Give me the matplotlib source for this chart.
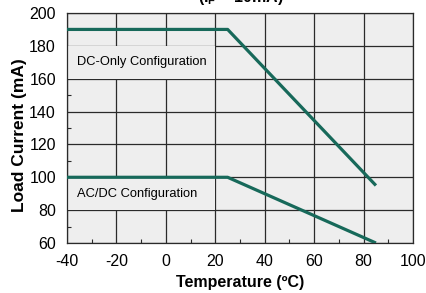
import matplotlib
matplotlib.use("Agg")
import matplotlib.pyplot as plt
from matplotlib.patches import Rectangle

plt.rcParams['font.family'] = ['Liberation Sans', 'DejaVu Sans']
plt.rcParams['axes.unicode_minus'] = False

dc_temp = [-40, 25, 85]
dc_current = [190, 190, 95]
acdc_temp = [-40, 25, 85]
acdc_current = [100, 100, 60]
xticks = [-40, -20, 0, 20, 40, 60, 80, 100]
yticks = [60, 80, 100, 120, 140, 160, 180, 200]

line_color = '#17695a'
bg = '#eeeeee'
grid_c = '#2a2a2a'

fig = plt.figure(figsize=(4.27, 2.93), dpi=100)
ax = fig.add_axes([67/427, 1-243/293, (413-67)/427, (243-13)/293])
ax.set_facecolor(bg)
ax.set_xlim(-40, 100)
ax.set_ylim(60, 200)
ax.set_xticks(xticks)
ax.set_yticks(yticks)
ax.set_xticks(range(-30, 100, 20), minor=True)
ax.set_yticks(range(70, 200, 20), minor=True)
ax.grid(True, which='major', color=grid_c, linewidth=0.9, zorder=1)
ax.set_axisbelow(True)
for s in ax.spines.values():
    s.set_color(grid_c)
    s.set_linewidth(0.9)
ax.tick_params(which='major', length=0, labelsize=11.5)
ax.tick_params(axis='x', which='major', pad=8)
ax.tick_params(axis='y', which='major', pad=8)
ax.tick_params(which='minor', direction='in', length=3, width=0.8, color=grid_c,
               left=True, bottom=True, right=False, top=False)

# label boxes covering the grid
for y0 in (160, 80):
    ax.add_patch(Rectangle((-40, y0), 60, 20, facecolor=bg, edgecolor='none', zorder=2))
ax.text(-36, 170, 'DC-Only Configuration', fontsize=9.3, va='center', ha='left', zorder=3)
ax.text(-36, 90, 'AC/DC Configuration', fontsize=9.3, va='center', ha='left', zorder=3)

ax.plot(dc_temp, dc_current, color=line_color, linewidth=2.3, zorder=4, solid_capstyle='butt')
ax.plot(acdc_temp, acdc_current, color=line_color, linewidth=2.3, zorder=4, solid_capstyle='butt')

ax.set_xlabel('Temperature (ºC)', fontsize=11.5, fontweight='bold', labelpad=4)
ax.set_ylabel('Load Current (mA)', fontsize=12.5, fontweight='bold')
ax.yaxis.set_label_coords(-0.1156, 0.47)

fig.text(0.565, 1-2/293, '(I$_\\mathregular{F}$ = 10mA)', fontsize=11.5, fontweight='bold',
         ha='center', va='baseline')

fig.savefig('out.png', dpi=100)
